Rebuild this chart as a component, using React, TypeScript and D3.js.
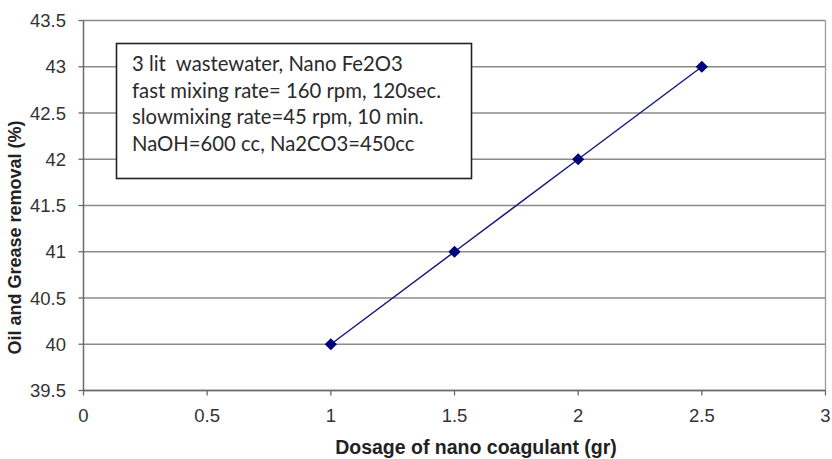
import React from "react";
import * as d3 from "d3";

// values
const dosage = [1, 1.5, 2, 2.5];
const removal = [40, 41, 42, 43];
const xTicks = [0, 0.5, 1, 1.5, 2, 2.5, 3];
const yTicks = [39.5, 40, 40.5, 41, 41.5, 42, 42.5, 43, 43.5];
const noteLines = [
  "3 lit\u00a0 wastewater, Nano Fe2O3",
  "fast mixing rate= 160 rpm, 120sec.",
  "slowmixing rate=45 rpm, 10 min.",
  "NaOH=600 cc, Na2CO3=450cc",
];

const W = 832;
const H = 459;
const left = 83.5, right = 825.5, top = 20.5, bottom = 390.5;

export default function App() {
  const x = d3.scaleLinear().domain([0, 3]).range([left, right]);
  const y = d3.scaleLinear().domain([39.5, 43.5]).range([bottom, top]);

  const pts = dosage.map((d, i) => ({ d, r: removal[i] }));
  const line = d3.line<{ d: number; r: number }>().x(p => x(p.d)).y(p => y(p.r));
  const diamond = d3.symbol().type(d3.symbolDiamond2).size(95)() as string;

  const axisFont = "Arial, 'Liberation Sans', sans-serif";

  return (
    <svg width={W} height={H} style={{ position: "absolute", left: 0, top: 0, background: "#fff" }}>
      {/* gridlines */}
      {yTicks.map(t => (
        <line key={"g" + t} x1={left} x2={right} y1={y(t)} y2={y(t)} stroke="#8a8a8a" strokeWidth={1.3} />
      ))}
      {/* frame */}
      <line x1={right} x2={right} y1={top} y2={bottom} stroke="#9a9a9a" strokeWidth={1.3} />
      <line x1={left} x2={left} y1={top} y2={bottom} stroke="#6a6a6a" strokeWidth={1.5} />
      <line x1={left} x2={right} y1={bottom} y2={bottom} stroke="#6a6a6a" strokeWidth={1.5} />

      {/* y ticks */}
      {yTicks.map(t => (
        <g key={"y" + t}>
          <line x1={left - 5} x2={left} y1={y(t)} y2={y(t)} stroke="#6a6a6a" strokeWidth={1.3} />
          <text x={66} y={y(t) + 6.5} textAnchor="end" fontFamily={axisFont} fontSize={18.5} fill="#333">
            {t}
          </text>
        </g>
      ))}
      {/* x ticks */}
      {xTicks.map(t => (
        <g key={"x" + t}>
          <line x1={x(t)} x2={x(t)} y1={bottom} y2={bottom + 5} stroke="#6a6a6a" strokeWidth={1.3} />
          <text x={x(t)} y={422} textAnchor="middle" fontFamily={axisFont} fontSize={18.5} fill="#333">
            {t}
          </text>
        </g>
      ))}

      {/* series */}
      <path d={line(pts) as string} fill="none" stroke="#1a1a80" strokeWidth={1.5} />
      {pts.map(p => (
        <path key={p.d} d={diamond} transform={`translate(${x(p.d)},${y(p.r)})`} fill="#00007a" />
      ))}

      {/* annotation box */}
      <rect x={116.5} y={43.5} width={355} height={135} fill="#fff" stroke="#222" strokeWidth={1.6} />
      {noteLines.map((s, i) => (
        <text key={i} x={132} y={71 + i * 26.5} fontFamily="Lato, 'Open Sans', sans-serif" fontSize={20.3} fill="#2a2a2a">
          {s}
        </text>
      ))}

      {/* axis titles */}
      <text x={476} y={454} textAnchor="middle" fontFamily={axisFont} fontWeight="bold" fontSize={19.5} fill="#222">
        Dosage of nano coagulant (gr)
      </text>
      <text
        transform={`translate(21,${(top + bottom) / 2 + 32}) rotate(-90)`}
        textAnchor="middle"
        fontFamily={axisFont}
        fontWeight="bold"
        fontSize={18}
        fill="#222"
      >
        Oil and Grease removal (%)
      </text>
    </svg>
  );
}
